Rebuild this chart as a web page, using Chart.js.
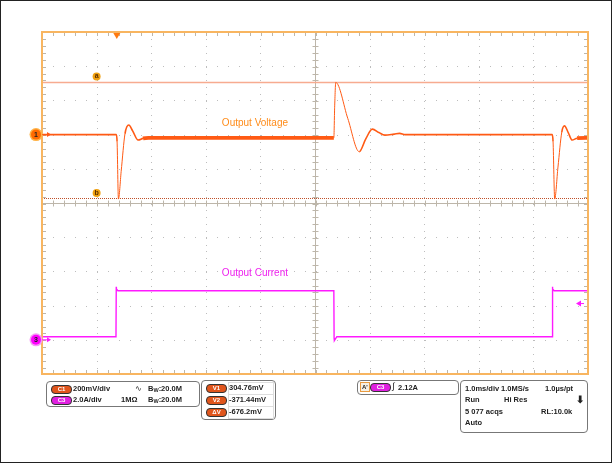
<!DOCTYPE html>
<html>
<head>
<meta charset="utf-8">
<script src="https://cdn.jsdelivr.net/npm/chart.js@4.4.1/dist/chart.umd.min.js"></script>
<style>
  body { margin: 0; background: #fff; }
  #wrap { position: relative; width: 612px; height: 463px; box-sizing: border-box; border: 1px solid #222; overflow: hidden; }
  #scope { position: absolute; left: -1px; top: -1px; }
  .panel { position: absolute; border: 1px solid #777; border-radius: 4px; background: #fff;
    font: bold 7.5px "Liberation Sans", Arial, sans-serif; color: #222; }
  .t { position: absolute; white-space: nowrap; line-height: 9px; }
  .pill { position: absolute; width: 19px; height: 7px; border-radius: 4px; border: 1px solid #333;
    font: bold 6px "Liberation Sans", sans-serif; color: #fff; text-align: center; line-height: 7px; }
  .c1 { background: #e0551c; }
  .c3 { background: #e020e0; }
  .cell { position: absolute; border: 1px solid #ddd; height: 11px; width: 44px; }
  sub { font-size: 5.5px; vertical-align: -1px; }
</style>
</head>
<body>
<div id="wrap">
  <canvas id="scope" width="612" height="463"></canvas>

  <div class="panel" style="left:45px;top:380px;width:152px;height:24px;">
    <div class="pill c1" style="left:4px;top:3px;">C1</div>
    <div class="t" style="left:26px;top:2px;">200mV/div</div>
    <div class="t" style="left:88px;top:2px;font-weight:normal;">∿</div>
    <div class="t" style="left:101px;top:2px;">B<sub>W</sub>:20.0M</div>
    <div class="pill c3" style="left:4px;top:14px;">C3</div>
    <div class="t" style="left:26px;top:13px;">2.0A/div</div>
    <div class="t" style="left:74px;top:13px;">1MΩ</div>
    <div class="t" style="left:101px;top:13px;">B<sub>W</sub>:20.0M</div>
  </div>

  <div class="panel" style="left:200px;top:379px;width:73px;height:38px;">
    <div class="cell" style="left:26px;top:1px;"></div>
    <div class="cell" style="left:26px;top:13px;"></div>
    <div class="cell" style="left:26px;top:25px;"></div>
    <div class="pill c1" style="left:4px;top:3px;">V1</div>
    <div class="t" style="left:27px;top:2px;">304.76mV</div>
    <div class="pill c1" style="left:4px;top:15px;">V2</div>
    <div class="t" style="left:27px;top:14px;">-371.44mV</div>
    <div class="pill c1" style="left:4px;top:27px;">ΔV</div>
    <div class="t" style="left:27px;top:26px;">-676.2mV</div>
  </div>

  <div class="panel" style="left:356px;top:379px;width:100px;height:13px;">
    <div class="t" style="left:2px;top:1px;border:1px solid #e89a40;background:#f4efe4;font-size:6px;line-height:8px;padding:0 1px;">A'</div>
    <div class="pill c3" style="left:12px;top:2px;">C3</div>
    <div class="t" style="left:34px;top:1px;font-size:9px;font-weight:normal;">∫</div>
    <div class="t" style="left:40px;top:2px;">2.12A</div>
  </div>

  <div class="panel" style="left:459px;top:379px;width:126px;height:51px;">
    <div class="t" style="left:4px;top:3px;">1.0ms/div</div>
    <div class="t" style="left:40px;top:3px;">1.0MS/s</div>
    <div class="t" style="left:84px;top:3px;">1.0µs/pt</div>
    <div class="t" style="left:4px;top:14px;">Run</div>
    <div class="t" style="left:43px;top:14px;">Hi Res</div>
    <div class="t" style="left:115px;top:14px;font-size:10px;">⬇</div>
    <div class="t" style="left:4px;top:26px;">5 077 acqs</div>
    <div class="t" style="left:80px;top:26px;">RL:10.0k</div>
    <div class="t" style="left:4px;top:37px;">Auto</div>
  </div>
</div>

<script>
// time axis in ms (10 divisions of 1 ms)
const timeV = [0, 1.36, 1.375, 1.40, 1.45, 1.52, 1.59, 1.66, 1.76, 1.85, 1.95, 5.345,
  5.36, 5.38, 5.60, 5.81, 5.93, 6.05, 6.17, 6.28, 6.45, 6.55, 6.65, 9.345, 9.36, 9.39,
  9.45, 9.52, 9.57, 9.64, 9.71, 9.80, 10];
// output voltage, mV relative to CH1 reference
const voltage = [0, 0, -40, -377, -215, 5, 56, 22, -32, -22, -19, -19,
  160, 305, 95, -100, -25, 32, 12, -3, 3, 7, 0, 0, -40, -377,
  -190, 15, 51, 10, -32, -21, -19];

const timeI = [0, 1.355, 1.36, 1.362, 1.39, 5.345, 5.35, 5.355, 5.40, 9.345, 9.35, 9.352, 9.38, 10];
// output current, A
const current = [0.18, 0.18, 3.1, 2.98, 2.87, 2.87, 0.1, -0.05, 0.18, 0.18, 3.1, 2.98, 2.87, 2.87];

const cursorV1 = 304.76;   // mV
const cursorV2 = -371.44;  // mV
const triggerLevel = 2.12; // A
const triggerTime = 1.37;  // ms

const loadedSpans = [[1.84, 5.35], [9.78, 10]];

const orange = '#ff5a14';
const magenta = '#ff1aff';

function pts(xs, ys) { return xs.map((t, i) => ({ x: t, y: ys[i] })); }
function isLoaded(a, b) { return loadedSpans.some(s => a >= s[0] && b <= s[1]); }

const graticule = {
  id: 'graticule',
  beforeDatasetsDraw(chart) {
    const { ctx, chartArea: a, scales: { x, yV } } = chart;
    const xs = [], ys = [];
    for (let i = 0; i <= 10; i++) xs.push(Math.round(x.getPixelForValue(i)) + 0.5);
    for (let i = 0; i <= 10; i++) ys.push(Math.round(yV.getPixelForValue(600 - i * 200)) + 0.5);
    const dx = (xs[10] - xs[0]) / 50, dy = (ys[10] - ys[0]) / 50;
    ctx.save();
    ctx.fillStyle = '#bdbdbd';
    for (let i = 1; i < 10; i++) {
      if (i === 5) continue;
      for (let j = 1; j < 50; j++) {
        ctx.fillRect(xs[i] - 0.5, Math.round(ys[0] + dy * j), 1, 1);
        ctx.fillRect(Math.round(xs[0] + dx * j), ys[i] - 0.5, 1, 1);
      }
    }
    ctx.strokeStyle = '#bdb6aa';
    ctx.lineWidth = 1;
    ctx.beginPath();
    ctx.moveTo(xs[5], a.top); ctx.lineTo(xs[5], a.bottom);
    ctx.moveTo(a.left, ys[5]); ctx.lineTo(a.right, ys[5]);
    for (let j = 1; j < 50; j++) {
      const px = Math.round(xs[0] + dx * j) + 0.5, py = Math.round(ys[0] + dy * j) + 0.5;
      ctx.moveTo(px, ys[5] - 3); ctx.lineTo(px, ys[5] + 3);
      ctx.moveTo(xs[5] - 3, py); ctx.lineTo(xs[5] + 3, py);
      ctx.moveTo(px, a.top); ctx.lineTo(px, a.top + 4);
      ctx.moveTo(px, a.bottom); ctx.lineTo(px, a.bottom - 4);
      ctx.moveTo(a.left, py); ctx.lineTo(a.left + 4, py);
      ctx.moveTo(a.right, py); ctx.lineTo(a.right - 4, py);
    }
    ctx.stroke();
    // cursors
    const ya = Math.round(yV.getPixelForValue(cursorV1)) + 0.5;
    const yb = Math.round(yV.getPixelForValue(cursorV2)) + 0.5;
    ctx.strokeStyle = '#f7ab90';
    ctx.lineWidth = 1.3;
    ctx.beginPath(); ctx.moveTo(a.left, ya); ctx.lineTo(a.right, ya); ctx.stroke();
    ctx.strokeStyle = '#c0502a';
    ctx.lineWidth = 1;
    ctx.setLineDash([1, 1]);
    ctx.beginPath(); ctx.moveTo(a.left, yb); ctx.lineTo(a.right, yb); ctx.stroke();
    ctx.restore();
  },
  afterDraw(chart) {
    const { ctx, chartArea: a, scales: { x, yV, yI } } = chart;
    ctx.save();
    // border
    ctx.strokeStyle = '#f8b560';
    ctx.lineWidth = 2;
    ctx.strokeRect(a.left, a.top, a.right - a.left, a.bottom - a.top);
    // cursor labels
    const cx = x.getPixelForValue(1);
    [['a', yV.getPixelForValue(cursorV1) - 6], ['b', yV.getPixelForValue(cursorV2) - 5]].forEach(([l, cy]) => {
      ctx.fillStyle = '#f0a010';
      ctx.beginPath(); ctx.arc(cx, cy, 4, 0, Math.PI * 2); ctx.fill();
      ctx.fillStyle = '#5a3000';
      ctx.font = 'bold 7px "Liberation Sans", sans-serif';
      ctx.textAlign = 'center'; ctx.textBaseline = 'middle';
      ctx.fillText(l, cx, cy);
    });
    // trace labels
    ctx.font = '10px "Liberation Sans", Arial, sans-serif';
    ctx.textAlign = 'center'; ctx.textBaseline = 'middle';
    ctx.fillStyle = '#ff8c1a';
    ctx.fillText('Output Voltage', x.getPixelForValue(3.9), yV.getPixelForValue(67));
    ctx.fillStyle = '#ee22ee';
    ctx.fillText('Output Current', x.getPixelForValue(3.9), yI.getPixelForValue(3.9));
    // channel markers
    const m = (y, fill, glow, label, col) => {
      ctx.fillStyle = glow;
      ctx.beginPath(); ctx.arc(36, y, 6.5, 0, Math.PI * 2); ctx.fill();
      ctx.fillStyle = fill;
      ctx.beginPath(); ctx.arc(36, y, 5, 0, Math.PI * 2); ctx.fill();
      ctx.fillStyle = '#222';
      ctx.font = 'bold 7px "Liberation Sans", sans-serif';
      ctx.fillText(label, 36, y + 0.5);
      ctx.strokeStyle = col; ctx.fillStyle = col; ctx.lineWidth = 1;
      ctx.beginPath(); ctx.moveTo(42, y); ctx.lineTo(50, y); ctx.stroke();
      ctx.beginPath(); ctx.moveTo(51, y); ctx.lineTo(47, y - 2.5); ctx.lineTo(47, y + 2.5); ctx.fill();
    };
    m(yV.getPixelForValue(0), '#ff6a00', '#ffb347', '1', orange);
    m(yI.getPixelForValue(0), '#ff00ff', '#f59af5', '3', magenta);
    // trigger position
    const tx = x.getPixelForValue(triggerTime);
    ctx.fillStyle = '#ff7a10';
    ctx.beginPath(); ctx.moveTo(tx - 3.5, a.top + 1); ctx.lineTo(tx + 3.5, a.top + 1); ctx.lineTo(tx, a.top + 7); ctx.fill();
    // trigger level
    const ty = yI.getPixelForValue(triggerLevel);
    ctx.fillStyle = magenta; ctx.strokeStyle = magenta;
    ctx.beginPath(); ctx.moveTo(a.right - 12, ty); ctx.lineTo(a.right - 7, ty - 3); ctx.lineTo(a.right - 7, ty + 3); ctx.fill();
    ctx.beginPath(); ctx.moveTo(a.right - 8, ty); ctx.lineTo(a.right - 4, ty); ctx.stroke();
    ctx.restore();
  }
};

new Chart(document.getElementById('scope'), {
  type: 'line',
  data: {
    datasets: [{
      label: 'Output Voltage',
      data: pts(timeV, voltage),
      yAxisID: 'yV',
      borderColor: orange,
      borderWidth: 1.6,
      pointRadius: 0,
      cubicInterpolationMode: 'monotone',
      segment: {
        borderWidth: c => isLoaded(c.p0.parsed.x, c.p1.parsed.x) ? 3.8 : (Math.abs(c.p1.parsed.y - c.p0.parsed.y) > 100 ? 1 : 1.6)
      }
    }, {
      label: 'Output Current',
      data: pts(timeI, current),
      yAxisID: 'yI',
      borderColor: magenta,
      borderWidth: 1.4,
      pointRadius: 0,
      tension: 0
    }]
  },
  options: {
    responsive: false,
    animation: false,
    layout: { padding: { left: 42, right: 24, top: 32, bottom: 89 } },
    plugins: { legend: { display: false }, tooltip: { enabled: false } },
    scales: {
      x: { type: 'linear', min: 0, max: 10, display: false },
      yV: { type: 'linear', min: -1400, max: 600, display: false },
      yI: { type: 'linear', min: -2, max: 18, display: false }
    }
  },
  plugins: [graticule]
});
</script>
</body>
</html>
